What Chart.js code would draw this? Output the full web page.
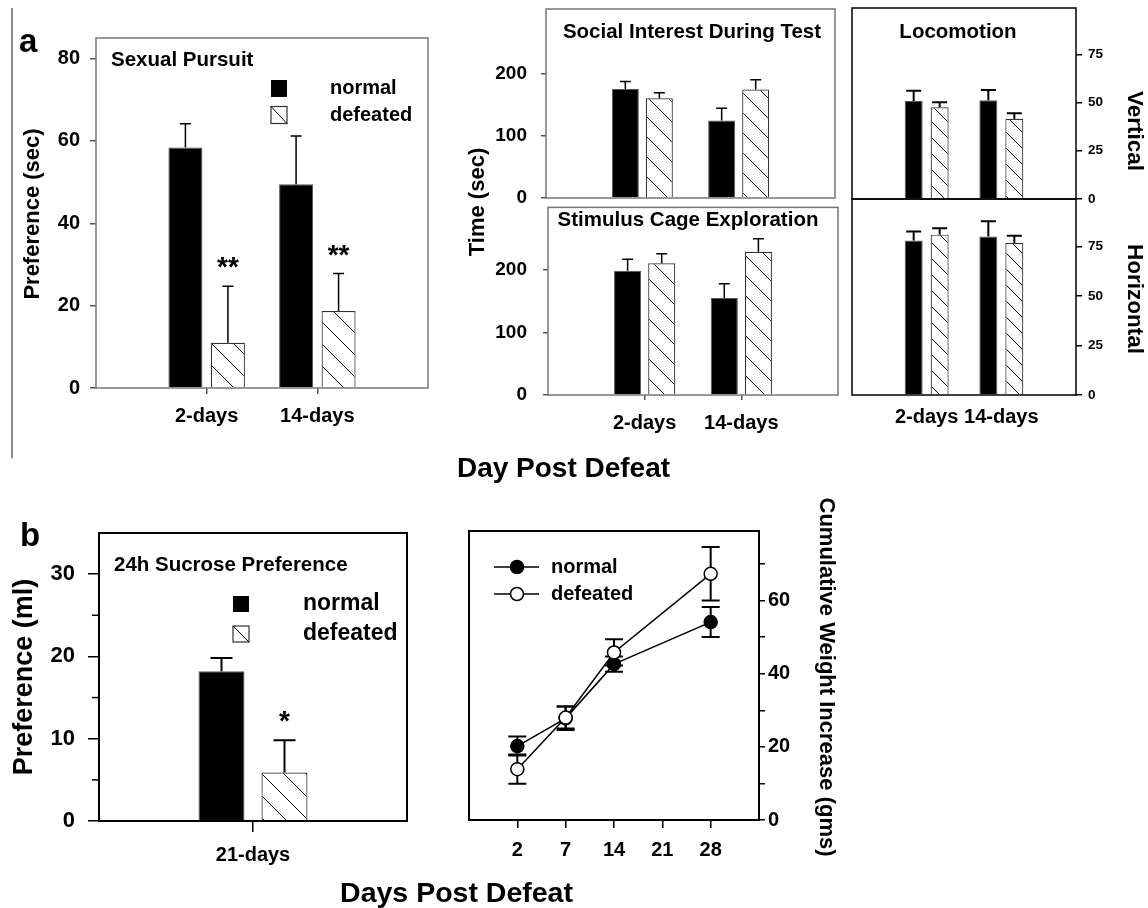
<!DOCTYPE html>
<html><head><meta charset="utf-8">
<script src="https://cdn.jsdelivr.net/npm/chart.js@4.4.1/dist/chart.umd.min.js"></script>
<style>
html,body{margin:0;padding:0;background:#fff}
body{width:1148px;height:908px;overflow:hidden;position:relative;font-family:"Liberation Sans",Arial,Helvetica,sans-serif}
canvas{position:absolute}
svg{position:absolute;left:0;top:0}
svg text{font-family:"Liberation Sans",Arial,Helvetica,sans-serif;font-weight:bold;fill:#000}
</style></head><body>
<canvas id="sp"></canvas>
<canvas id="si"></canvas>
<canvas id="sc"></canvas>
<canvas id="lv"></canvas>
<canvas id="lh"></canvas>
<canvas id="su"></canvas>
<canvas id="wt"></canvas>
<svg width="1148" height="908">
  <line x1="12" y1="8" x2="12" y2="458" stroke="#666" stroke-width="1.5"/>
  <text x="19" y="52" font-size="33">a</text>
  <text x="20" y="546" font-size="33">b</text>
  <text x="563.5" y="477" font-size="28" text-anchor="middle">Day Post Defeat</text>
  <text x="456.5" y="902" font-size="28.5" text-anchor="middle">Days Post Defeat</text>
  <text transform="translate(31,214) rotate(-90)" font-size="22" text-anchor="middle" dominant-baseline="central">Preference (sec)</text>
  <text transform="translate(476,202) rotate(-90)" font-size="22" text-anchor="middle" dominant-baseline="central">Time (sec)</text>
  <text transform="translate(1135,131) rotate(90)" font-size="22.5" text-anchor="middle" dominant-baseline="central">Vertical</text>
  <text transform="translate(1135,299) rotate(90)" font-size="22.5" text-anchor="middle" dominant-baseline="central">Horizontal</text>
  <text transform="translate(22.5,677) rotate(-90)" font-size="27" text-anchor="middle" dominant-baseline="central">Preference (ml)</text>
  <text transform="translate(827,677) rotate(90)" font-size="22" text-anchor="middle" dominant-baseline="central">Cumulative Weight Increase (gms)</text>
</svg>
<script>
// ---------------- DATA ----------------
const spCategories = ['2-days', '14-days'];
const spNormal = [58.4, 49.5];
const spNormalErr = [5.8, 11.7];
const spDefeated = [11.0, 18.7];
const spDefeatedErr = [13.7, 9.1];
const spSig = ['**', '**'];
const spTicks = [0, 20, 40, 60, 80];

const siCategories = ['2-days', '14-days'];
const siNormal = [176, 125];
const siNormalErr = [12, 20];
const siDefeated = [161, 175];
const siDefeatedErr = [9, 16];

const scCategories = ['2-days', '14-days'];
const scNormal = [198.5, 155];
const scNormalErr = [18.5, 23];
const scDefeated = [210.5, 229];
const scDefeatedErr = [15.5, 21];
const timeTicks = [0, 100, 200];

const lvCategories = ['2-days', '14-days'];
const lvNormal = [50.8, 51.2];
const lvNormalErr = [5.3, 5.3];
const lvDefeated = [47.5, 41.6];
const lvDefeatedErr = [2.6, 2.8];

const lhCategories = ['2-days', '14-days'];
const lhNormal = [78.1, 80.1];
const lhNormalErr = [4.5, 7.6];
const lhDefeated = [81.0, 76.8];
const lhDefeatedErr = [3.2, 3.7];
const locoTicks = [0, 25, 50, 75];

const suCategories = ['21-days'];
const suNormal = [18.2];
const suNormalErr = [1.6];
const suDefeated = [5.9];
const suDefeatedErr = [3.9];
const suSig = ['*'];
const suTicks = [0, 10, 20, 30];
const suMinorTicks = [5, 15, 25];

const wtDays = ['2', '7', '14', '21', '28'];
const wtNormal = [20.2, 27.8, 42.6, null, 54.1];
const wtNormalErr = [2.6, 3.2, 2.1, null, 4.1];
const wtDefeated = [13.9, 28.0, 45.8, null, 67.3];
const wtDefeatedErr = [4.0, 3.0, 3.6, null, 7.3];
const wtTicks = [0, 10, 20, 30, 40, 50, 60, 70];

// ---------------- HELPERS ----------------
const FONT = '"Liberation Sans", Arial, Helvetica, sans-serif';
Chart.defaults.font.family = FONT;
Chart.defaults.color = '#000';
const HIDDEN = 'rgba(0,0,0,0)';

function pad(arr) { return [null, ...arr, null]; }
function padLabels(arr) { return ['', ...arr, '']; }

function setupCanvas(id, r) {
  const c = document.getElementById(id);
  c.width = r.w; c.height = r.h;
  c.style.left = r.x + 'px'; c.style.top = r.y + 'px';
  c.style.width = r.w + 'px'; c.style.height = r.h + 'px';
  return c;
}

function layoutFor(r, a, yPos, xShown) {
  const padding = {top: a.t - r.y, left: 0, right: 0, bottom: 0};
  let yW;
  if (yPos === 'left') { yW = a.l - r.x; padding.right = r.x + r.w - a.r; }
  else { yW = r.x + r.w - a.r; padding.left = a.l - r.x; }
  const xH = r.y + r.h - a.b;
  if (!xShown) padding.bottom = xH;
  return {
    padding,
    yFit: s => { s.width = yW; },
    xFit: s => { s.height = xShown ? xH : 0; }
  };
}

function hatch(size, lw) {
  const c = document.createElement('canvas');
  c.width = size; c.height = size;
  const g = c.getContext('2d');
  g.fillStyle = '#fff'; g.fillRect(0, 0, size, size);
  g.strokeStyle = '#000'; g.lineWidth = lw || 1;
  g.beginPath();
  for (const k of [-size, 0, size]) { g.moveTo(k, 0); g.lineTo(k + size, size); }
  g.stroke();
  return g.createPattern(c, 'repeat');
}

function drawErr(chart, o) {
  const ctx = chart.ctx, ys = chart.scales.y;
  ctx.save();
  ctx.strokeStyle = '#000'; ctx.lineWidth = o.lw;
  chart.data.datasets.forEach((ds, di) => {
    if (!ds.errors) return;
    const meta = chart.getDatasetMeta(di);
    meta.data.forEach((el, i) => {
      const v = ds.data[i], e = ds.errors[i];
      if (v == null || e == null) return;
      const yTop = ys.getPixelForValue(v + e);
      const yBot = o.both ? ys.getPixelForValue(v - e) : el.y;
      ctx.beginPath();
      ctx.moveTo(el.x, yBot); ctx.lineTo(el.x, yTop);
      ctx.moveTo(el.x - o.cap, yTop); ctx.lineTo(el.x + o.cap, yTop);
      if (o.both) { ctx.moveTo(el.x - o.cap, yBot); ctx.lineTo(el.x + o.cap, yBot); }
      ctx.stroke();
      if (ds.sig && ds.sig[i]) {
        ctx.fillStyle = '#000';
        ctx.font = 'bold ' + o.sigSize + 'px ' + FONT;
        ctx.textAlign = 'center'; ctx.textBaseline = 'alphabetic';
        ctx.fillText(ds.sig[i], el.x, yTop - o.sigGap);
      }
    });
  });
  ctx.restore();
}

const errorBars = {
  id: 'errorBars',
  beforeDatasetsDraw(chart, a, o) { if (o.under) drawErr(chart, o); },
  afterDatasetsDraw(chart, a, o) { if (!o.under) drawErr(chart, o); }
};

const boxPlugin = {
  id: 'box',
  afterDatasetsDraw(chart, a, o) {
    const {left, top, right, bottom} = chart.chartArea;
    const ctx = chart.ctx;
    ctx.save();
    ctx.strokeStyle = o.stroke; ctx.lineWidth = o.lw;
    ctx.strokeRect(left, top, right - left, bottom - top);
    ctx.restore();
  }
};

const panelText = {
  id: 'panelText',
  afterDraw(chart, a, o) {
    if (!o.text) return;
    const ctx = chart.ctx;
    ctx.save();
    ctx.font = 'bold ' + o.size + 'px ' + FONT;
    ctx.fillStyle = '#000'; ctx.textAlign = o.align; ctx.textBaseline = 'middle';
    ctx.fillText(o.text, o.x, o.y);
    ctx.restore();
  }
};

const barLegend = {
  id: 'barLegend',
  afterDraw(chart, a, o) {
    if (!o.ys) return;
    const ctx = chart.ctx;
    ctx.save();
    chart.data.datasets.forEach((ds, i) => {
      const bx = o.x, by = o.ys[i] - o.h / 2;
      if (typeof ds.backgroundColor === 'string') {
        ctx.fillStyle = ds.backgroundColor; ctx.fillRect(bx, by, o.w, o.h);
      } else {
        ctx.fillStyle = '#fff'; ctx.fillRect(bx, by, o.w, o.h);
        ctx.strokeStyle = '#333'; ctx.lineWidth = 1.2;
        ctx.strokeRect(bx, by, o.w, o.h);
        ctx.beginPath(); ctx.moveTo(bx, by); ctx.lineTo(bx + o.w, by + o.h);
        ctx.lineWidth = 1; ctx.strokeStyle = '#000'; ctx.stroke();
      }
      ctx.fillStyle = '#000';
      ctx.font = 'bold ' + o.size + 'px ' + FONT;
      ctx.textAlign = 'left'; ctx.textBaseline = 'middle';
      ctx.fillText(ds.label, o.tx, o.ys[i]);
    });
    ctx.restore();
  }
};

const lineLegend = {
  id: 'lineLegend',
  afterDraw(chart, a, o) {
    if (!o.ys) return;
    const ctx = chart.ctx;
    ctx.save();
    chart.data.datasets.forEach((ds, i) => {
      const y = o.ys[i];
      ctx.strokeStyle = '#000'; ctx.lineWidth = ds.borderWidth;
      ctx.beginPath(); ctx.moveTo(o.x0, y); ctx.lineTo(o.x1, y); ctx.stroke();
      ctx.beginPath(); ctx.arc(o.mx, y, ds.pointRadius, 0, Math.PI * 2);
      ctx.fillStyle = ds.pointBackgroundColor; ctx.fill();
      ctx.lineWidth = ds.pointBorderWidth; ctx.stroke();
      ctx.fillStyle = '#000';
      ctx.font = 'bold ' + o.size + 'px ' + FONT;
      ctx.textAlign = 'left'; ctx.textBaseline = 'middle';
      ctx.fillText(ds.label, o.tx, y);
    });
    ctx.restore();
  }
};

const minorTicks = {
  id: 'minorTicks',
  afterDraw(chart, a, o) {
    if (!o.values) return;
    const ctx = chart.ctx, ys = chart.scales.y, x = chart.chartArea.left;
    ctx.save();
    ctx.strokeStyle = o.stroke; ctx.lineWidth = o.lw;
    o.values.forEach(v => {
      const y = ys.getPixelForValue(v);
      ctx.beginPath(); ctx.moveTo(x, y); ctx.lineTo(x - o.len, y); ctx.stroke();
    });
    ctx.restore();
  }
};

function barChart(id, s) {
  const c = setupCanvas(id, s.rect);
  const L = layoutFor(s.rect, s.area, s.yPos, s.xShown);
  const ox = s.rect.x, oy = s.rect.y;
  const labels = padLabels(s.categories);
  const last = labels.length - 1;
  const tickCol = ctx => (ctx.index === 0 || ctx.index === last) ? HIDDEN : s.axisColor;
  return new Chart(c, {
    type: 'bar',
    data: {
      labels,
      datasets: [
        {label: 'normal', data: pad(s.normal), errors: pad(s.normalErr),
         backgroundColor: '#000', borderColor: '#555', borderWidth: 1,
         categoryPercentage: s.cp, barPercentage: s.bp},
        {label: 'defeated', data: pad(s.defeated), errors: pad(s.defeatedErr),
         sig: s.sig ? pad(s.sig) : null,
         backgroundColor: hatch(s.hatch, 1), borderColor: '#333', borderWidth: 1.2,
         categoryPercentage: s.cp, barPercentage: s.bp}
      ]
    },
    options: {
      responsive: false, animation: false, events: [],
      layout: {padding: L.padding},
      plugins: {
        legend: {display: false}, tooltip: {enabled: false},
        errorBars: {lw: s.errW, cap: s.cap, both: false, under: false, sigSize: 28, sigGap: 10},
        box: {stroke: s.boxColor, lw: s.boxW},
        panelText: s.title ? {text: s.title.text, x: s.title.x - ox, y: s.title.y - oy, align: s.title.align, size: s.title.size} : {},
        barLegend: s.legend ? {x: s.legend.x - ox, ys: s.legend.ys.map(v => v - oy), w: s.legend.w, h: s.legend.h, tx: s.legend.tx - ox, size: s.legend.size} : {},
        minorTicks: s.minor ? {values: s.minor, len: s.minorLen, lw: 1.5, stroke: s.axisColor} : {}
      },
      scales: {
        x: {
          type: 'category', offset: false, display: s.xShown,
          grid: {offset: false, display: s.xTicks !== false, drawOnChartArea: false, drawTicks: true,
                 tickLength: s.xTickLen || 0, lineWidth: 1.5, color: tickCol, tickColor: tickCol},
          border: {display: false},
          ticks: {autoSkip: false, maxRotation: 0, minRotation: 0, padding: s.xPad || 0, color: '#000',
                  font: {family: FONT, size: 20, weight: 'bold'}},
          afterFit: L.xFit
        },
        y: {
          position: s.yPos, min: 0, max: s.max,
          afterBuildTicks: sc => { sc.ticks = s.yTicks.map(v => ({value: v})); },
          grid: {drawOnChartArea: false, tickLength: s.yTickLen, lineWidth: 1.5, color: s.axisColor},
          border: {display: false},
          ticks: {padding: s.yPad, color: '#000', font: {family: FONT, size: s.yFont, weight: 'bold'}},
          afterFit: L.yFit
        }
      }
    },
    plugins: [errorBars, boxPlugin, panelText, barLegend, minorTicks]
  });
}

// ---------------- CHARTS ----------------
barChart('sp', {
  rect: {x: 0, y: 0, w: 440, h: 450}, area: {l: 96, t: 38, r: 428, b: 388},
  yPos: 'left', xShown: true,
  categories: spCategories, normal: spNormal, normalErr: spNormalErr,
  defeated: spDefeated, defeatedErr: spDefeatedErr, sig: spSig,
  yTicks: spTicks, max: 85, cp: 0.768, bp: 0.8, hatch: 22,
  yTickLen: 6, yPad: 10, yFont: 20, xTickLen: 6, xPad: 10,
  axisColor: '#555', boxColor: '#777', boxW: 1.5, cap: 5.5, errW: 1.5,
  title: {text: 'Sexual Pursuit', x: 111, y: 60, align: 'left', size: 20.5},
  legend: {x: 271, ys: [88.5, 115], w: 16, h: 17, tx: 330, size: 20}
});

barChart('si', {
  rect: {x: 450, y: -20, w: 400, h: 260}, area: {l: 546, t: 9, r: 835, b: 198},
  yPos: 'left', xShown: false,
  categories: siCategories, normal: siNormal, normalErr: siNormalErr,
  defeated: siDefeated, defeatedErr: siDefeatedErr,
  yTicks: timeTicks, max: 305, cp: 0.706, bp: 0.794, hatch: 20,
  yTickLen: 5, yPad: 14, yFont: 19,
  axisColor: '#555', boxColor: '#777', boxW: 1.5, cap: 5.5, errW: 1.5,
  title: {text: 'Social Interest During Test', x: 692, y: 32, align: 'center', size: 20.5}
});

barChart('sc', {
  rect: {x: 450, y: 180, w: 400, h: 270}, area: {l: 548, t: 205, r: 838, b: 395},
  yPos: 'left', xShown: true,
  categories: scCategories, normal: scNormal, normalErr: scNormalErr,
  defeated: scDefeated, defeatedErr: scDefeatedErr,
  yTicks: timeTicks, max: 300, cp: 0.706, bp: 0.794, hatch: 20,
  yTickLen: 5, yPad: 16, yFont: 19, xTickLen: 5, xPad: 11,
  axisColor: '#555', boxColor: '#777', boxW: 1.5, cap: 5.5, errW: 1.5,
  title: {text: 'Stimulus Cage Exploration', x: 688, y: 220, align: 'center', size: 20.5}
});

barChart('lv', {
  rect: {x: 838, y: -20, w: 307, h: 260}, area: {l: 852, t: 8, r: 1076, b: 199},
  yPos: 'right', xShown: false,
  categories: lvCategories, normal: lvNormal, normalErr: lvNormalErr,
  defeated: lvDefeated, defeatedErr: lvDefeatedErr,
  yTicks: locoTicks, max: 99, cp: 0.696, bp: 0.692, hatch: 16,
  yTickLen: 6, yPad: 6, yFont: 13.5,
  axisColor: '#000', boxColor: '#000', boxW: 1.5, cap: 7.5, errW: 2,
  title: {text: 'Locomotion', x: 958, y: 32, align: 'center', size: 20.5}
});

barChart('lh', {
  rect: {x: 832, y: 175, w: 313, h: 275}, area: {l: 852, t: 199, r: 1076, b: 395},
  yPos: 'right', xShown: true, xTicks: false, xPad: 10,
  categories: lhCategories, normal: lhNormal, normalErr: lhNormalErr,
  defeated: lhDefeated, defeatedErr: lhDefeatedErr,
  yTicks: locoTicks, max: 99, cp: 0.696, bp: 0.692, hatch: 16,
  yTickLen: 6, yPad: 6, yFont: 13.5,
  axisColor: '#000', boxColor: '#000', boxW: 1.5, cap: 7.5, errW: 2
});

barChart('su', {
  rect: {x: 0, y: 490, w: 440, h: 410}, area: {l: 99, t: 533, r: 407, b: 821},
  yPos: 'left', xShown: true,
  categories: suCategories, normal: suNormal, normalErr: suNormalErr,
  defeated: suDefeated, defeatedErr: suDefeatedErr, sig: suSig,
  yTicks: suTicks, max: 35, cp: 0.818, bp: 0.73, hatch: 22,
  minor: suMinorTicks, minorLen: 7,
  yTickLen: 11, yPad: 13, yFont: 22, xTickLen: 11, xPad: 11,
  axisColor: '#000', boxColor: '#000', boxW: 2, cap: 11, errW: 2,
  title: {text: '24h Sucrose Preference', x: 114, y: 565, align: 'left', size: 20.5},
  legend: {x: 233, ys: [604, 634], w: 16, h: 16, tx: 303, size: 23}
});

(function () {
  const rect = {x: 440, y: 500, w: 400, h: 380};
  const area = {l: 469, t: 531, r: 759, b: 820};
  const c = setupCanvas('wt', rect);
  const L = layoutFor(rect, area, 'right', true);
  const labels = padLabels(wtDays);
  const last = labels.length - 1;
  const tickCol = ctx => (ctx.index === 0 || ctx.index === last) ? HIDDEN : '#000';
  new Chart(c, {
    type: 'line',
    data: {
      labels,
      datasets: [
        {label: 'normal', data: pad(wtNormal), errors: pad(wtNormalErr),
         borderColor: '#000', borderWidth: 1.5, pointRadius: 6.5,
         pointBackgroundColor: '#000', pointBorderColor: '#000', pointBorderWidth: 1.5,
         spanGaps: true, tension: 0, fill: false, order: 1},
        {label: 'defeated', data: pad(wtDefeated), errors: pad(wtDefeatedErr),
         borderColor: '#000', borderWidth: 1.5, pointRadius: 6.5,
         pointBackgroundColor: '#fff', pointBorderColor: '#000', pointBorderWidth: 1.5,
         spanGaps: true, tension: 0, fill: false, order: 0}
      ]
    },
    options: {
      responsive: false, animation: false, events: [],
      layout: {padding: L.padding},
      plugins: {
        legend: {display: false}, tooltip: {enabled: false},
        errorBars: {lw: 2, cap: 9, both: true, under: true, sigSize: 28, sigGap: 6},
        box: {stroke: '#000', lw: 2},
        lineLegend: {x0: 494 - rect.x, x1: 539 - rect.x, mx: 517 - rect.x, tx: 551 - rect.x,
                     ys: [567 - rect.y, 594 - rect.y], size: 20}
      },
      scales: {
        x: {
          type: 'category', offset: false,
          grid: {offset: false, drawOnChartArea: false, tickLength: 8, lineWidth: 1.5, color: tickCol, tickColor: tickCol},
          border: {display: false},
          ticks: {autoSkip: false, maxRotation: 0, minRotation: 0, padding: 10, color: '#000',
                  font: {family: FONT, size: 20, weight: 'bold'}},
          afterFit: L.xFit
        },
        y: {
          position: 'right', min: 0, max: 79,
          afterBuildTicks: sc => { sc.ticks = wtTicks.map(v => ({value: v})); },
          grid: {drawOnChartArea: false, tickLength: 6, lineWidth: 1.5, color: '#000'},
          border: {display: false},
          ticks: {padding: 3, color: '#000', callback: v => (v % 20 === 0 ? v : ''),
                  font: {family: FONT, size: 20, weight: 'bold'}},
          afterFit: L.yFit
        }
      }
    },
    plugins: [errorBars, boxPlugin, lineLegend]
  });
})();
</script>
</body></html>
